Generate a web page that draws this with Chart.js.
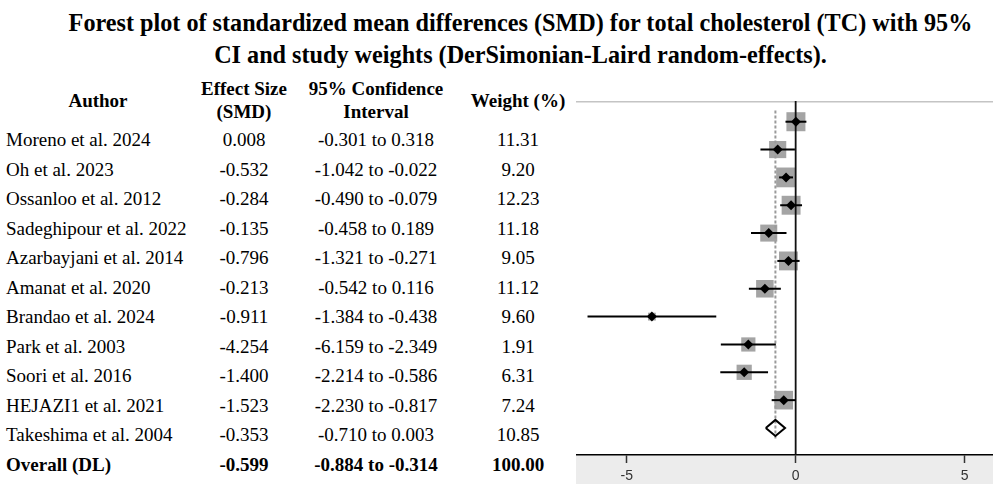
<!DOCTYPE html>
<html><head><meta charset="utf-8">
<script src="https://cdn.jsdelivr.net/npm/chart.js@4.4.0/dist/chart.umd.min.js"></script>
<style>
html,body{margin:0;padding:0;background:#fff;width:1000px;height:487px;overflow:hidden;position:relative;font-family:"Liberation Serif","Times New Roman",serif;color:#000}
.t{position:absolute;white-space:nowrap;font-size:19px;line-height:29.5px}
.c{width:240px;text-align:center}
.h{font-weight:bold;line-height:23px}
#title{position:absolute;left:0;width:1041px;top:7px;text-align:center;font-weight:bold;font-size:24.2px;line-height:32px;white-space:nowrap}
#wrap{position:absolute;left:576px;top:101px;width:417px;height:383px}
</style></head><body>
<div id="title">Forest plot of standardized mean differences (SMD) for total cholesterol (TC) with 95%<br>CI and study weights (DerSimonian-Laird random-effects).</div>
<div id="table"></div>
<div id="wrap"><canvas id="c" width="417" height="383"></canvas></div>
<script>
// ---- data ----
const authors = ["Moreno et al. 2024","Oh et al. 2023","Ossanloo et al. 2012","Sadeghipour et al. 2022","Azarbayjani et al. 2014","Amanat et al. 2020","Brandao et al. 2024","Park et al. 2003","Soori et al. 2016","HEJAZI1 et al. 2021","Takeshima et al. 2004"];
const smd = [0.008,-0.532,-0.284,-0.135,-0.796,-0.213,-0.911,-4.254,-1.400,-1.523,-0.353];
const ciLow = [-0.301,-1.042,-0.490,-0.458,-1.321,-0.542,-1.384,-6.159,-2.214,-2.230,-0.710];
const ciHigh = [0.318,-0.022,-0.079,0.189,-0.271,0.116,-0.438,-2.349,-0.586,-0.817,0.003];
const weights = [11.31,9.20,12.23,11.18,9.05,11.12,9.60,1.91,6.31,7.24,10.85];
const overallLabel = "Overall (DL)";
const overallSmd = -0.599;
const overallLow = -0.884;
const overallHigh = -0.314;
const overallWeight = 100.00;
const headers = ["Author", "Effect Size<br>(SMD)", "95% Confidence<br>Interval", "Weight (%)"];
const xTicks = [-5, 0, 5];

// ---- table (text) ----
const tbl = document.getElementById('table');
function put(html, cls, left, top, center) {
  const d = document.createElement('div');
  d.className = 't ' + cls + (center ? ' c' : '');
  d.innerHTML = html;
  d.style.left = (center ? left - 120 : left) + 'px';
  d.style.top = top + 'px';
  tbl.appendChild(d);
}
const colCenters = [98, 244, 376, 518];
put(headers[0], 'h', colCenters[0], 89, true);
put(headers[1], 'h', colCenters[1], 77, true);
put(headers[2], 'h', colCenters[2], 77, true);
put(headers[3], 'h', colCenters[3], 89, true);
const rowTop0 = 125, rowStep = 29.5;
const fmt = v => v.toFixed(3);
authors.forEach((a, i) => {
  const top = rowTop0 + i * rowStep;
  put(a, '', 6, top, false);
  put(fmt(smd[i]), '', colCenters[1], top, true);
  put(fmt(ciLow[i]) + ' to ' + fmt(ciHigh[i]), '', colCenters[2], top, true);
  put(weights[i].toFixed(2), '', colCenters[3], top, true);
});
{
  const top = rowTop0 + authors.length * rowStep;
  put('<b>' + overallLabel + '</b>', '', 6, top, false);
  put('<b>' + fmt(overallSmd) + '</b>', '', colCenters[1], top, true);
  put('<b>' + fmt(overallLow) + ' to ' + fmt(overallHigh) + '</b>', '', colCenters[2], top, true);
  put('<b>' + overallWeight.toFixed(2) + '</b>', '', colCenters[3], top, true);
}

// ---- chart ----
const n = smd.length;
const overallRow = n + 1;
const yMin = 0.256, yMax = 12.97;
const datasets = [];

// weight squares
datasets.push({
  type: 'scatter', order: 10,
  data: smd.map((v, i) => ({x: v, y: i + 1})),
  pointStyle: 'rect',
  pointRadius: weights.map(w => 4.0 * Math.sqrt(w)),
  backgroundColor: '#a4a4a4', borderWidth: 0
});
// zero line
datasets.push({
  type: 'scatter', order: 6, showLine: true,
  data: [{x: 0, y: yMin}, {x: 0, y: yMax}],
  borderColor: '#111', borderWidth: 1.8, pointRadius: 0
});
// overall dotted line
datasets.push({
  type: 'scatter', order: 7, showLine: true,
  data: [{x: overallSmd, y: 1 - 0.4}, {x: overallSmd, y: overallRow + 0.45}],
  borderColor: '#9a9a9a', borderWidth: 2, borderDash: [3, 2], pointRadius: 0
});
// CI lines
smd.forEach((v, i) => {
  datasets.push({
    type: 'scatter', order: 5, showLine: true,
    data: [{x: ciLow[i], y: i + 1}, {x: ciHigh[i], y: i + 1}],
    borderColor: '#000', borderWidth: 2, pointRadius: 0
  });
});
// point markers
datasets.push({
  type: 'scatter', order: 2,
  data: smd.map((v, i) => ({x: v, y: i + 1})),
  pointStyle: 'rectRot', pointRadius: 5,
  backgroundColor: '#000', borderColor: '#000', borderWidth: 0
});
// overall diamond
const dh = 0.29;
datasets.push({
  type: 'scatter', order: 1, showLine: true,
  data: [
    {x: overallLow, y: overallRow}, {x: overallSmd, y: overallRow - dh},
    {x: overallHigh, y: overallRow}, {x: overallSmd, y: overallRow + dh},
    {x: overallLow, y: overallRow}
  ],
  borderColor: '#000', borderWidth: 2, pointRadius: 0, fill: false, tension: 0,
  borderJoinStyle: 'miter'
});

const frame = {
  id: 'frame',
  beforeDraw(chart) {
    const {ctx, chartArea: a, height} = chart;
    ctx.save();
    ctx.fillStyle = '#ececec';
    ctx.fillRect(a.left, a.bottom, a.right - a.left, height - a.bottom);
    ctx.strokeStyle = '#c4c4c4';
    ctx.lineWidth = 1.5;
    ctx.beginPath();
    ctx.moveTo(a.left, a.top + 0.75);
    ctx.lineTo(a.right, a.top + 0.75);
    ctx.stroke();
    ctx.restore();
  }
};

new Chart(document.getElementById('c'), {
  type: 'scatter',
  data: {datasets},
  plugins: [frame],
  options: {
    responsive: false, animation: false,
    layout: {padding: 0, autoPadding: false},
    plugins: {legend: {display: false}, tooltip: {enabled: false}},
    scales: {
      x: {
        type: 'linear', min: -6.5, max: 5.84,
        afterBuildTicks: s => { s.ticks = xTicks.map(v => ({value: v})); },
        afterFit: s => { s.height = 29; },
        grid: {drawOnChartArea: false, drawTicks: true, tickLength: 8, color: '#333', tickWidth: 1.5},
        border: {display: true, color: '#000', width: 1.5},
        ticks: {color: '#333', font: {family: 'Liberation Sans', size: 14}, padding: 5, maxRotation: 0}
      },
      y: {type: 'linear', display: false, min: yMin, max: yMax, reverse: true}
    }
  }
});
</script>
</body></html>
